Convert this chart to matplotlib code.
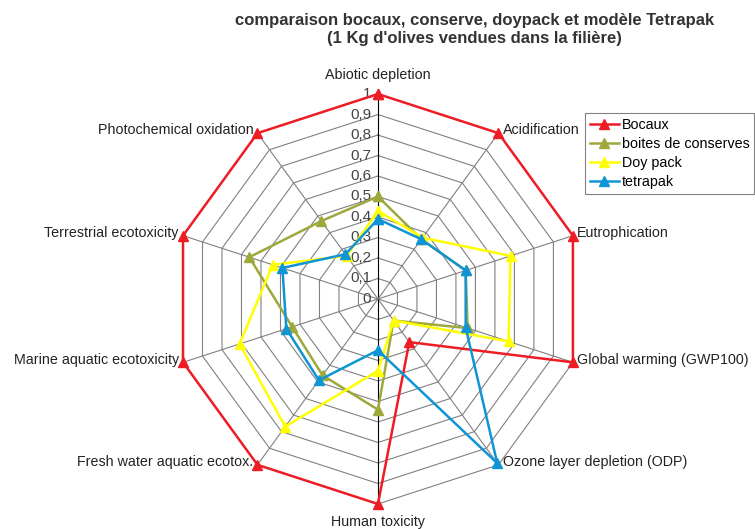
import numpy as np
import matplotlib.pyplot as plt

plt.rcParams['font.family'] = ['Liberation Sans', 'DejaVu Sans']

categories = [
    "Abiotic depletion",
    "Acidification",
    "Eutrophication",
    "Global warming (GWP100)",
    "Ozone layer depletion (ODP)",
    "Human toxicity",
    "Fresh water aquatic ecotox.",
    "Marine aquatic ecotoxicity",
    "Terrestrial ecotoxicity",
    "Photochemical oxidation",
]

bocaux = [1.0, 1.0, 1.0, 1.0, 0.26, 1.0, 1.0, 1.0, 1.0, 1.0]
conserves = [0.50, 0.36, 0.45, 0.46, 0.13, 0.54, 0.46, 0.44, 0.66, 0.47]
doypack = [0.43, 0.37, 0.68, 0.67, 0.13, 0.35, 0.77, 0.71, 0.54, 0.26]
tetrapak = [0.39, 0.36, 0.45, 0.45, 0.99, 0.25, 0.49, 0.47, 0.49, 0.27]

series = [
    ("Bocaux", bocaux, "#ee1c25"),
    ("boites de conserves", conserves, "#9ea83b"),
    ("Doy pack", doypack, "#ffff00"),
    ("tetrapak", tetrapak, "#0f95d6"),
]

ring_levels = [0.1, 0.2, 0.3, 0.4, 0.5, 0.6, 0.7, 0.8, 0.9, 1.0]
tick_labels = ["0", "0,1", "0,2", "0,3", "0,4", "0,5", "0,6", "0,7", "0,8", "0,9", "1"]

n = len(categories)
theta = np.linspace(0, 2 * np.pi, n, endpoint=False)
theta_closed = np.append(theta, theta[0])

fig = plt.figure(figsize=(7.55, 5.29), dpi=100)
ax = fig.add_axes([0.2291, 0.0473, 0.543, 0.775], projection="polar")
ax.set_theta_zero_location("N")
ax.set_theta_direction(-1)
ax.set_ylim(0, 1)
ax.grid(False)
ax.spines["polar"].set_visible(False)
ax.set_xticks([])
ax.set_yticks([])
ax.patch.set_alpha(0)

# decagon rings and spokes
for r in ring_levels:
    ax.plot(theta_closed, [r] * (n + 1), color="#808080", lw=0.8, zorder=1)
for i, t in enumerate(theta):
    col = "black" if i in (0, 5) else "#808080"
    ax.plot([t, t], [0, 1], color=col, lw=0.8, zorder=1)

# value labels along the vertical axis
for r, lab in zip([0] + ring_levels, tick_labels):
    ax.annotate(lab, xy=(0, r), xytext=(-5, 0), textcoords="offset points",
                ha="right", va="center", fontsize=11, color="#444444", zorder=2)

# data
for name, vals, col in series:
    v = vals + vals[:1]
    ax.plot(theta_closed, v, color=col, lw=1.8, marker="^", markersize=7,
            label=name, zorder=3, clip_on=False)

# category labels
for t, lab in zip(theta, categories):
    s, c = np.sin(t), np.cos(t)
    if abs(s) < 0.01:
        ha = "center"
        dx, dy = 0, (9 if c > 0 else -8)
        va = "bottom" if c > 0 else "top"
    elif s > 0:
        ha, va, dx, dy = "left", "center", 3, 2
    else:
        ha, va, dx, dy = "right", "center", -3, 2
    ax.annotate(lab, xy=(t, 1), xytext=(dx, dy), textcoords="offset points",
                ha=ha, va=va, fontsize=10.3, color="#222222", annotation_clip=False)

fig.text(0.628, 0.975, "comparaison bocaux, conserve, doypack et modèle Tetrapak\n"
         "(1 Kg d'olives vendues dans la filière)",
         ha="center", va="top", fontsize=12, fontweight="bold",
         color="#333333", linespacing=1.25)

leg = fig.legend(loc="upper left", bbox_to_anchor=(0.775, 0.786), fontsize=10.3,
                 handlelength=2.0, handletextpad=0.2, borderpad=0.35,
                 labelspacing=0.35, borderaxespad=0, fancybox=False, framealpha=1,
                 edgecolor="#808080")
leg.get_frame().set_linewidth(0.8)

fig.savefig("out.png", dpi=100)
